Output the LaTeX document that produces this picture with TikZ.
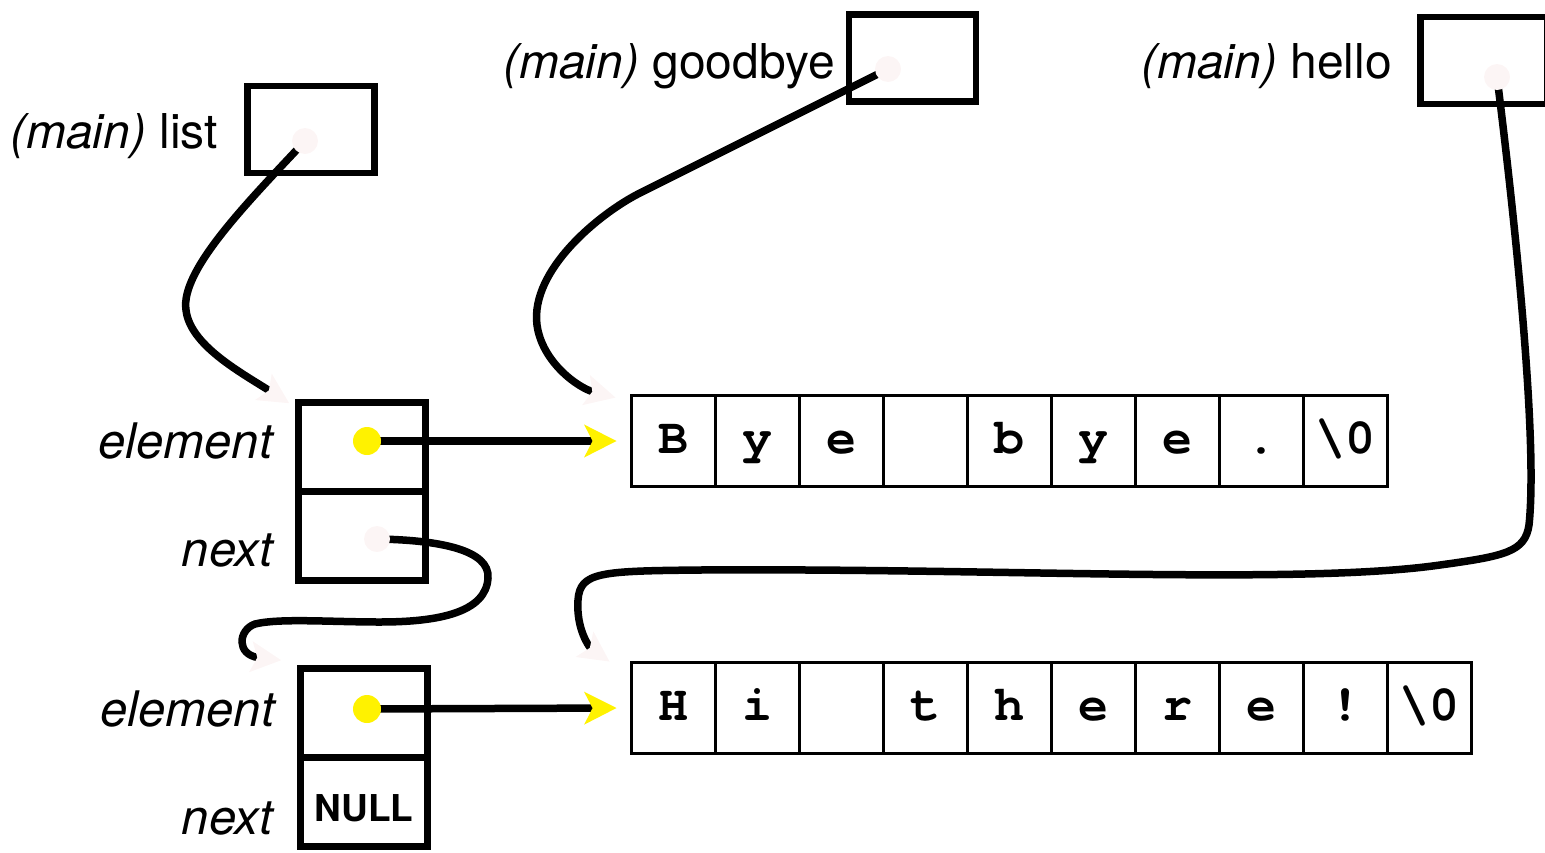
\documentclass[tikz,border=0pt]{standalone}
\usepackage{fontspec}
\setmainfont{TeX Gyre Heros}
\newfontfamily\charfont{texgyrecursor}[Extension=.otf, UprightFont=*-regular, BoldFont=*-bold]
\usetikzlibrary{arrows.meta}
\definecolor{marker}{RGB}{255,242,0}
\definecolor{faint}{RGB}{252,245,245}

\begin{document}
\begin{tikzpicture}[x=1pt, y=-1pt,
    box/.style={draw, line width=6.5pt, minimum width=127pt, minimum height=87pt, inner sep=0pt},
    cell/.style={draw, line width=3.8pt, minimum width=84pt, minimum height=91pt, inner sep=0pt, text height=34pt, text depth=10pt, font=\charfont\bfseries\fontsize{50}{50}\selectfont},
    lbl/.style={anchor=east, inner sep=0pt, font=\fontsize{48}{48}\selectfont},
    ptr/.style={line width=7.5pt, -{Stealth[length=30pt, width=30pt, inset=6pt, color=faint]}},
    link/.style={line width=7.5pt, -{Stealth[length=32pt, width=32pt, inset=8pt, color=marker]}}]

    \useasboundingbox (0,0) rectangle (1545,852);

    % variables in main
    \node[box] (list) at (311,129.5) {};
    \node[box] (goodbye) at (912.5,58) {};
    \node[box] (hello) at (1484,60.5) {};
    \node[lbl] (listlbl) at (218,136) {\textit{(main)} list};
    \node[lbl] (goodbyelbl) at (835,66) {\textit{(main)} goodbye};
    \node[lbl] (hellolbl) at (1392,66) {\textit{(main)} hello};

    % list nodes
    \node[box, minimum height=89pt] (elemA) at (362,447) {};
    \node[box, minimum height=89pt] (nextA) at (362,536) {};
    \node[box, minimum height=89pt] (elemB) at (364,713) {};
    \node[box, minimum height=89pt] (nextB) at (364,802) {};
    \node[font=\bfseries\fontsize{37}{37}\selectfont, inner sep=0pt] (nulltxt) at (364,808) {NULL};
    \node[lbl, font=\itshape\fontsize{49}{49}\selectfont] at (273,441) {element};
    \node[lbl, font=\itshape\fontsize{49}{49}\selectfont] at (273,550) {next};
    \node[lbl, font=\itshape\fontsize{49}{49}\selectfont] at (275,709) {element};
    \node[lbl, font=\itshape\fontsize{49}{49}\selectfont] at (273,818) {next};

    % strings
    \foreach \c [count=\i from 0] in {B,y,e,{},b,y,e,.,\textbackslash0}
        \node[cell] (bye\i) at (673.5+84*\i,441) {\c};
    \foreach \c [count=\i from 0] in {H,i,{},t,h,e,r,e,!,\textbackslash0}
        \node[cell] (hi\i) at (673.5+84*\i,708) {\c};

    % pointer origins
    \coordinate (listdot) at (305,141);
    \coordinate (goodbyedot) at (888,69);
    \coordinate (hellodot) at (1497,77);
    \coordinate (nextdot) at (377,539);
    \coordinate (elemAdot) at (367,441);
    \coordinate (elemBdot) at (367,709);

    \draw[ptr] (listdot) .. controls (250,200) and (180,270) .. (186,310)
        .. controls (190,345) and (240,372) .. ([xshift=-6pt,yshift=-4pt]elemA.north west);
    \draw[ptr] (goodbyedot) -- (640,193) .. controls (600,213) and (530,270) .. (537,325)
        .. controls (542,362) and (578,388) .. ([xshift=-14pt,yshift=-4pt]bye0.north west);
    \draw[ptr] (hellodot) .. controls (1515,220) and (1538,440) .. (1529,525)
        .. controls (1525,552) and (1505,556) .. (1440,565)
        .. controls (1300,585) and (1000,568) .. (700,570)
        .. controls (600,571) and (580,572) .. (578,600)
        .. controls (576,630) and (590,648) .. ([xshift=-20pt,yshift=-1pt]hi0.north west);
    \draw[ptr] (nextdot) .. controls (440,540) and (490,550) .. (488,578)
        .. controls (486,612) and (440,622) .. (380,622)
        .. controls (330,622) and (280,618) .. (255,624)
        .. controls (238,630) and (236,655) .. ([xshift=-16pt,yshift=5pt]elemB.north west);

    \fill[faint] (listdot) circle[radius=13pt];
    \fill[faint] (goodbyedot) circle[radius=13pt];
    \fill[faint] (hellodot) circle[radius=13pt];
    \fill[faint] (nextdot) circle[radius=13pt];

    \draw[link] (elemAdot) -- ([xshift=-13pt]bye0.west);
    \draw[link] (elemBdot) -- ([xshift=-13pt]hi0.west);
    \fill[marker] (elemAdot) circle[radius=14pt];
    \fill[marker] (elemBdot) circle[radius=14pt];

\end{tikzpicture}
\end{document}
